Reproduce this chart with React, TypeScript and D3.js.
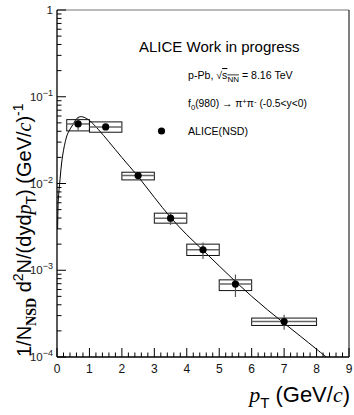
import * as d3 from "d3";

// ALICE f0(980) pT spectrum, p-Pb 8.16 TeV
const ptBinLow = [0.3, 1, 2, 3, 4, 5, 6];
const ptBinHigh = [1, 2, 3, 4, 5, 6, 8];
const ptCenter = [0.65, 1.5, 2.5, 3.5, 4.5, 5.5, 7.0];
const yieldVal = [0.0486, 0.0449, 0.01233, 0.00398, 0.00172, 0.000692, 0.000256];
const statErr = [0.0078, 0.0035, 0.0012, 0.00065, 0.00037, 0.0002, 0.00005];
const sysLow = [0.0404, 0.039, 0.011, 0.00349, 0.00148, 0.000583, 0.000231];
const sysHigh = [0.0545, 0.0513, 0.01349, 0.00455, 0.002, 0.000775, 0.000281];

// fit curve
const fitX = [0.02, 0.04, 0.092, 0.154, 0.256, 0.339, 0.484, 0.617, 0.749, 0.977, 1.285, 1.594, 2.0, 2.5, 3.0, 3.5, 4.0, 4.5, 5.0, 5.5, 6.0, 6.5, 7.0, 7.5, 8.0, 8.4];
const fitY = [0.003, 0.00647, 0.011, 0.0187, 0.0304, 0.0383, 0.0473, 0.0565, 0.059, 0.0541, 0.0415, 0.0304, 0.01995, 0.01202, 0.00692, 0.00407, 0.00257, 0.0017, 0.00112, 0.000741, 0.000501, 0.000347, 0.000245, 0.000174, 0.000123, 0.0000933];

const xTicks = [0, 1, 2, 3, 4, 5, 6, 7, 8, 9];
const yDecades = [-4, -3, -2, -1, 0];

const W = 354;
const H = 415;
const frame = { left: 57, right: 349, top: 10, bottom: 357 };
const sans = "'Liberation Sans', Arial, Helvetica, sans-serif";
const serif = "'Liberation Serif', 'Times New Roman', serif";

export default function App() {
  const x = d3.scaleLinear().domain([0, 9]).range([frame.left, frame.right]);
  const y = d3.scaleLog().domain([1e-4, 1]).range([frame.bottom, frame.top]);

  const minorX = d3.range(0, 9.001, 0.2).filter((v) => Math.abs(v - Math.round(v)) > 0.01);
  const minorY: number[] = [];
  yDecades.slice(0, -1).forEach((e) => {
    for (let k = 2; k <= 9; k++) minorY.push(k * Math.pow(10, e));
  });

  const line = d3
    .line<number>()
    .x((_, i) => x(fitX[i]))
    .y((_, i) => y(fitY[i]))
    .curve(d3.curveCatmullRom);

  return (
    <svg
      width={W}
      height={H}
      style={{ position: "absolute", left: 0, top: 0, background: "#fff" }}
    >
      <defs>
        <clipPath id="plotClip">
          <rect x={frame.left} y={frame.top} width={frame.right - frame.left} height={frame.bottom - frame.top} />
        </clipPath>
      </defs>
      <rect width={W} height={H} fill="#fff" />

      {/* frame */}
      <line x1={frame.left} x2={frame.right} y1={frame.top} y2={frame.top} stroke="#777" strokeWidth={1} />
      <line x1={frame.right} x2={frame.right} y1={frame.top} y2={frame.bottom} stroke="#000" strokeWidth={1} />
      <line x1={frame.left} x2={frame.left} y1={frame.top} y2={frame.bottom} stroke="#000" strokeWidth={1.3} />
      <line x1={frame.left} x2={frame.right} y1={frame.bottom} y2={frame.bottom} stroke="#000" strokeWidth={1.3} />

      {/* x ticks */}
      {xTicks.map((t) => (
        <g key={"xt" + t}>
          <line x1={x(t)} x2={x(t)} y1={frame.bottom} y2={frame.bottom - 9} stroke="#000" />
          <text x={x(t)} y={frame.bottom + 16} textAnchor="middle" fontFamily={sans} fontSize={12} fill="#111">
            {t}
          </text>
        </g>
      ))}
      {minorX.map((t) => (
        <line key={"xm" + t} x1={x(t)} x2={x(t)} y1={frame.bottom} y2={frame.bottom - 4.5} stroke="#000" />
      ))}

      {/* y ticks */}
      {yDecades.map((e) => (
        <g key={"yt" + e}>
          <line x1={frame.left} x2={frame.left + 9} y1={y(Math.pow(10, e))} y2={y(Math.pow(10, e))} stroke="#000" />
          <text x={frame.left - 4} y={y(Math.pow(10, e)) + 4} textAnchor="end" fontFamily={sans} fontSize={11.5} fill="#222">
            {e === 0 ? (
              "1"
            ) : (
              <>
                10
                <tspan dy={-5} fontSize={9}>
                  {"\u2212" + -e}
                </tspan>
              </>
            )}
          </text>
        </g>
      ))}
      {minorY.map((v) => (
        <line key={"ym" + v} x1={frame.left} x2={frame.left + 4.5} y1={y(v)} y2={y(v)} stroke="#000" />
      ))}

      {/* fit curve */}
      <path d={line(fitX) || ""} fill="none" stroke="#000" strokeWidth={1} clipPath="url(#plotClip)" />

      {/* systematic boxes */}
      {ptCenter.map((p, i) => (
        <g key={"box" + i}>
          <rect
            x={x(ptBinLow[i])}
            y={y(sysHigh[i])}
            width={x(ptBinHigh[i]) - x(ptBinLow[i])}
            height={y(sysLow[i]) - y(sysHigh[i])}
            fill="none"
            stroke="#111"
            strokeWidth={1}
          />
          <line
            x1={x(ptBinLow[i])}
            x2={x(ptBinHigh[i])}
            y1={y(yieldVal[i])}
            y2={y(yieldVal[i])}
            stroke="#666"
            strokeWidth={1.5}
          />
          <line
            x1={x(p)}
            x2={x(p)}
            y1={y(yieldVal[i] + statErr[i])}
            y2={y(yieldVal[i] - statErr[i])}
            stroke="#555"
            strokeWidth={1.2}
          />
          <circle cx={x(p)} cy={y(yieldVal[i])} r={3.6} fill="#000" />
        </g>
      ))}

      {/* legend / labels */}
      <text x={139} y={52} fontFamily={sans} fontSize={15} fill="#000">
        ALICE Work in progress
      </text>
      <text x={188} y={79} fontFamily={sans} fontSize={10.6} fill="#000">
        p-Pb, {"\u221A"}
        <tspan style={{ textDecoration: "overline" }}>
          s<tspan dy={2.5} fontSize={8}>NN</tspan>
        </tspan>
        <tspan dy={-2.5}> = 8.16 TeV</tspan>
      </text>
      <text x={188} y={107} fontFamily={sans} fontSize={10.3} fill="#000">
        f<tspan dy={2.5} fontSize={7.7}>0</tspan>
        <tspan dy={-2.5}>(980) {"\u2192"} {"\u03C0"}</tspan>
        <tspan dy={-3.5} fontSize={7.7}>+</tspan>
        <tspan dy={3.5}>{"\u03C0"}</tspan>
        <tspan dy={-3.5} fontSize={7.7}>-</tspan>
        <tspan dy={3.5}> (-0.5&lt;y&lt;0)</tspan>
      </text>
      <circle cx={161.5} cy={131} r={3.6} fill="#000" />
      <text x={188} y={135} fontFamily={sans} fontSize={10.6} fill="#000">
        ALICE(NSD)
      </text>

      {/* y title */}
      <text transform="translate(31,357) rotate(-90)" fontFamily={sans} fontSize={20} fill="#000">
        1/N
        <tspan dy={5} fontFamily={serif} fontWeight="bold" fontSize={14}>
          NSD
        </tspan>
        <tspan dy={-5}> d</tspan>
        <tspan dy={-8} fontSize={14}>
          2
        </tspan>
        <tspan dy={8}>N/(dyd</tspan>
        <tspan fontFamily={serif} fontStyle="italic">
          p
        </tspan>
        <tspan dy={5} fontSize={14}>
          T
        </tspan>
        <tspan dy={-5}>) (GeV/</tspan>
        <tspan fontFamily={serif} fontStyle="italic">
          c
        </tspan>
        <tspan>)</tspan>
        <tspan dy={-8} fontSize={14}>
          -1
        </tspan>
      </text>

      {/* x title */}
      <text x={350} y={402} textAnchor="end" fontFamily={sans} fontSize={22} fill="#000">
        <tspan fontFamily={serif} fontStyle="italic">
          p
        </tspan>
        <tspan dy={6} fontSize={15}>
          T
        </tspan>
        <tspan dy={-6}> (GeV/</tspan>
        <tspan fontFamily={serif} fontStyle="italic">
          c
        </tspan>
        <tspan>)</tspan>
      </text>
    </svg>
  );
}
